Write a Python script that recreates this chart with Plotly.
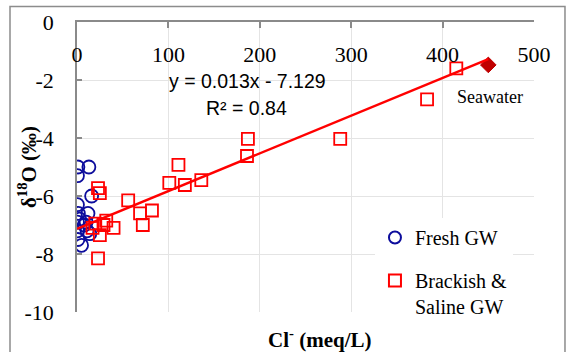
import plotly.graph_objects as go

# Fresh groundwater samples: chloride (meq/L) and delta-18O (per mil)
fresh_cl = [1, 13, 0.5, 16, 0.5, 1.5, 12, 0.5, 10, 0.5, 11, 1, 5, 8, 14, 3]
fresh_d18o = [-5.0, -5.0, -5.3, -6.0, -6.3, -6.6, -6.6, -6.9, -6.9, -7.2, -7.2, -7.5, -7.7, -7.0, -7.3, -6.8]

# Brackish and saline groundwater samples
brackish_cl = [23, 25, 20, 32, 40, 25, 23, 56, 69, 72, 82, 101, 111, 118, 136, 186, 187, 288, 383, 415, 17, 29]
brackish_d18o = [-5.73, -5.9, -6.95, -6.85, -7.1, -7.35, -8.15, -6.15, -6.6, -7.0, -6.5, -5.55, -4.93,
                 -5.62, -5.45, -4.62, -4.03, -4.03, -2.67, -1.6, -7.1, -7.0]

# Seawater end member
seawater_cl = [450]
seawater_d18o = [-1.48]

# Linear fit reported for the data set
slope = 0.013
intercept = -7.129
r_squared = 0.84
fit_cl = [0, 450]
fit_d18o = [slope * c + intercept for c in fit_cl]

x_ticks = [0, 100, 200, 300, 400, 500]
y_ticks = [0, -2, -4, -6, -8, -10]

serif = "Liberation Serif"
sans = "Liberation Sans"
axis_grey = "#8a8a8a"
grid_grey = "#e4e4e4"

fig = go.Figure()

fig.add_trace(go.Scatter(
    x=fresh_cl, y=fresh_d18o, mode="markers", name="Fresh GW",
    legendgroup="fresh",
    marker=dict(symbol="circle-open", size=13, color="#0c0c9c", line=dict(width=1.8, color="#0c0c9c")),
))
fig.add_trace(go.Scatter(
    x=brackish_cl, y=brackish_d18o, mode="markers", name="Brackish &<br>Saline GW",
    legendgroup="brackish",
    marker=dict(symbol="square-open", size=12, color="#ff0000", line=dict(width=1.8, color="#ff0000")),
))
# seawater point sits on the title-only left axis, which shares the -10..0 scale
fig.add_trace(go.Scatter(
    x=seawater_cl, y=seawater_d18o, mode="markers", name="Seawater", showlegend=False,
    xaxis="x", yaxis="y2",
    marker=dict(symbol="diamond", size=12, color="#c00000", line=dict(width=1, color="#c00000")),
))
# fit line uses the label-only top axis, which shares the 0-500 Cl- scale
fig.add_trace(go.Scatter(
    x=fit_cl, y=fit_d18o, mode="lines", showlegend=False, xaxis="x2", yaxis="y",
    line=dict(color="#ff0000", width=2.5),
))

fig.update_layout(
    width=569, height=352,
    margin=dict(l=77, r=35, t=22, b=40),
    paper_bgcolor="white", plot_bgcolor="white",
    showlegend=True,
    legend=dict(
        x=0.652, y=0.324, xanchor="left", yanchor="top",
        bgcolor="white", borderwidth=0,
        font=dict(family=serif, size=20, color="black"),
        traceorder="grouped", tracegroupgap=14, valign="top",
        itemsizing="constant",
    ),
    xaxis=dict(
        range=[0, 500], side="top", tickvals=x_ticks, showticklabels=False,
        showgrid=True, gridcolor=grid_grey, gridwidth=1,
        showline=True, linecolor=axis_grey, linewidth=1.5,
        ticks="inside", ticklen=6, tickcolor=axis_grey, tickwidth=1.5,
        zeroline=False, fixedrange=True,
    ),
    # label-only axis that places the Cl- tick labels just under the top axis line
    xaxis2=dict(
        range=[0, 500], overlaying="x", anchor="free", position=0.943, side="bottom",
        tickvals=x_ticks, ticktext=[str(v) for v in x_ticks],
        showgrid=False, showline=False, ticks="", zeroline=False,
        tickfont=dict(family=serif, size=22, color="black"), fixedrange=True,
    ),
    yaxis=dict(
        range=[-10, 0], tickvals=y_ticks, ticktext=[str(v) for v in y_ticks],
        showgrid=True, gridcolor=grid_grey, gridwidth=1,
        showline=True, linecolor=axis_grey, linewidth=1.5,
        ticks="inside", ticklen=5, tickcolor=axis_grey, tickwidth=1.5,
        zeroline=False, ticklabelstandoff=17,
        tickfont=dict(family=serif, size=22, color="black"), fixedrange=True,
        automargin=False,
    ),
    # title-only axis carrying the delta-18O title close to the tick labels
    yaxis2=dict(
        range=[-10, 0], overlaying="y", anchor="free", position=0, side="left",
        showticklabels=False, ticks="", showgrid=False, showline=False, zeroline=False,
        title=dict(text="<b>δ<sup>18</sup>O (‰)</b>", standoff=33,
                   font=dict(family=serif, size=21, color="black")),
        automargin=False, fixedrange=True,
    ),
)

# Outer chart frame
fig.add_shape(type="rect", xref="paper", yref="paper",
              x0=-0.1466, x1=1.0678, y0=-0.2, y1=1.0534,
              line=dict(color="#8c8c8c", width=1.5), fillcolor="rgba(0,0,0,0)", layer="below")

# X axis title
fig.add_annotation(text="<b>Cl<sup>-</sup> (meq/L)</b>", xref="paper", yref="paper",
                   x=(319 - 77) / 457, y=-0.09, showarrow=False, yanchor="middle",
                   font=dict(family=serif, size=21, color="black"))

# Regression equation and fit quality
fig.add_annotation(text=f"y = {slope}x - {abs(intercept)}", x=187, y=-2.02, showarrow=False,
                   font=dict(family=sans, size=19.5, color="black"))
fig.add_annotation(text=f"R² = {r_squared}", x=185, y=-2.98, showarrow=False,
                   font=dict(family=sans, size=19.5, color="black"))

# Seawater end-member label
fig.add_annotation(text="Seawater", x=452, y=-2.59, showarrow=False,
                   font=dict(family=serif, size=18, color="black"))

fig.write_html("out.html")
